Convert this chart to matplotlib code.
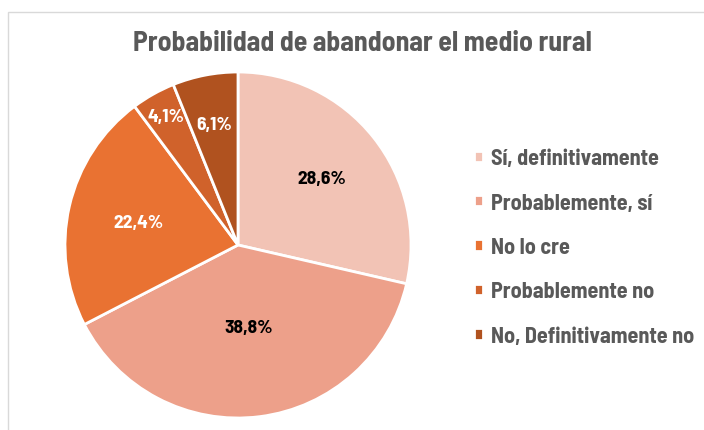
import numpy as np
import matplotlib
matplotlib.use("Agg")
import matplotlib.pyplot as plt
from matplotlib.patches import Rectangle

# datos
categorias = ["Sí, definitivamente", "Probablemente, sí", "No lo cre",
              "Probablemente no", "No, Definitivamente no"]
porcentajes = [28.6, 38.8, 22.4, 4.1, 6.1]
colores = ["#F2C3B5", "#EDA08A", "#E97232", "#D0622B", "#B0521F"]
color_texto = ["#000000", "#000000", "#FFFFFF", "#FFFFFF", "#FFFFFF"]
dist_etiqueta = [0.62, 0.48, 0.59, 0.85, 0.71]
titulo = "Probabilidad de abandonar el medio rural"

plt.rcParams["font.family"] = ["Barlow Semi Condensed", "DejaVu Sans"]

fig = plt.figure(figsize=(7.04, 4.31), dpi=100)
fig.patch.set_facecolor("white")

# marco del grafico
fig.add_artist(Rectangle((8 / 704, -0.1), 1.0, (431 - 13) / 431 + 0.1,
                         transform=fig.transFigure, fill=False,
                         edgecolor="#D9D9D9", linewidth=1))

ax = fig.add_axes([65 / 704, 12 / 431, 346 / 704, 346 / 431])
wedges, _ = ax.pie(porcentajes, colors=colores, startangle=90, counterclock=False,
                   radius=1.0, wedgeprops=dict(edgecolor="white", linewidth=2))
ax.set_xlim(-1.0, 1.0)
ax.set_ylim(-1.0, 1.0)
ax.set_aspect("equal")
ax.axis("off")

for w, p, c, d in zip(wedges, porcentajes, color_texto, dist_etiqueta):
    ang = np.deg2rad((w.theta1 + w.theta2) / 2)
    ax.text(d * np.cos(ang), d * np.sin(ang), f"{p:.1f}%".replace(".", ","),
            ha="center", va="center", color=c, fontsize=14, fontweight="bold")

fig.text(362 / 704, 1 - 44 / 431, titulo, ha="center", va="center",
         fontsize=20, fontweight="bold", color="#595959")

leg = fig.legend(wedges, categorias, loc="center left",
                 bbox_to_anchor=(474 / 704, 1 - 248 / 431), frameon=False,
                 borderaxespad=0, borderpad=0,
                 handlelength=0.4, handleheight=0.4, handletextpad=0.35,
                 labelspacing=1.1, prop=dict(size=16, weight="bold"))
for t in leg.get_texts():
    t.set_color("#595959")

fig.savefig("out.png", dpi=100)
